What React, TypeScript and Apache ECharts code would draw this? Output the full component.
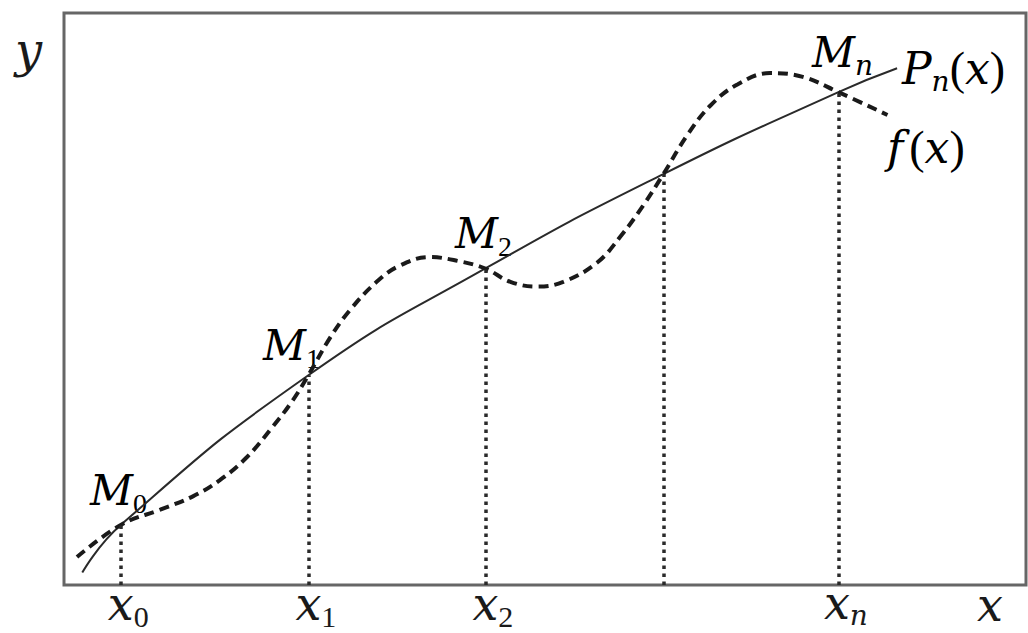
import React, { useEffect, useRef } from "react";
import * as echarts from "echarts";

// interpolation nodes x_i and their values
const nodeX = [5.9, 25.4, 43.8, 62.3, 80.5];
const nodeY = [6.3, 22.0, 33.2, 43.1, 51.7];
const tickMain = ["x", "x", "x", "", "x"];
const tickSub = ["0", "1", "2", "", "n"];
const pointMain = ["M", "M", "M", "", "M"];
const pointSub = ["0", "1", "2", "", "n"];

// polynomial P_n(x) curve: ends + nodes
const pStartX = 1.9, pStartY = 1.3;
const pEndX = 86.6, pEndY = 54.2;

// function f(x) (dashed)
const fX = [1.35, 5.9, 10.0, 13.4, 16.2, 19.0, 21.7, 23.8, 25.4, 27.7, 29.7, 32.5, 34.9, 38.0, 40.9, 43.8, 46.4, 49.2, 51.9, 55.4, 57.8, 60.2, 62.3, 64.8, 67.2, 70.0, 73.4, 76.8, 80.5, 85.6];
const fY = [2.94, 6.3, 7.9, 9.3, 11.0, 13.4, 16.6, 19.4, 22.0, 26.0, 28.8, 31.8, 33.5, 34.4, 34.0, 33.2, 31.8, 31.3, 31.8, 33.8, 36.5, 39.8, 43.1, 47.2, 50.3, 52.5, 53.7, 53.3, 51.7, 49.3];

const IT = "DejaVu Serif"; // has a real italic face
const UP = "Liberation Serif"; // upright digits and brackets
const INK = "#1a1a1a";

// label placement (pixels, top-left of text block)
const pointLabelPos: (number[] | null)[] = [[90, 463], [263, 318], [455, 206], null, [812, 25]];

const subTok = (s: string) => (/\d/.test(s) ? `{d|${s}}` : `{e|${s}}`);

export default function App() {
  const ref = useRef<HTMLDivElement>(null);
  useEffect(() => {
    if (!ref.current) return;
    const chart = echarts.init(ref.current, null, { renderer: "svg" });

    const pData: number[][] = [[pStartX, pStartY]];
    nodeX.forEach((x, i) => pData.push([x, nodeY[i]]));
    pData.push([pEndX, pEndY]);
    const fData = fX.map((x, i) => [x, fY[i]]);

    const richM = {
      m: { fontSize: 42, fontStyle: "italic", fontFamily: IT, color: INK },
      d: { fontSize: 28, fontFamily: UP, color: INK, padding: [26, 0, 0, 0] },
      e: { fontSize: 28, fontStyle: "italic", fontFamily: IT, color: INK, padding: [26, 0, 0, 0] },
    };
    const richP = {
      m: { fontSize: 44, fontStyle: "italic", fontFamily: IT, color: INK },
      r: { fontSize: 46, fontFamily: UP, color: INK },
      e: { fontSize: 28, fontStyle: "italic", fontFamily: IT, color: INK, padding: [26, 0, 0, 0] },
    };
    const richF = {
      m: { fontSize: 44, fontStyle: "italic", fontFamily: IT, color: INK },
      r: { fontSize: 46, fontFamily: UP, color: INK },
      q: { fontSize: 46, fontFamily: UP, color: INK, padding: [0, 0, 0, 6] },
    };

    const graphics: any[] = [];
    pointMain.forEach((m, i) => {
      const pos = pointLabelPos[i];
      if (!m || !pos) return;
      graphics.push({
        type: "text",
        x: pos[0],
        y: pos[1],
        style: { text: `{m|${m}}${subTok(pointSub[i])}`, rich: richM, align: "left", verticalAlign: "top" },
      });
    });
    graphics.push({
      type: "text", x: 902, y: 41,
      style: { text: "{m|P}{e|n}{r|(}{m|x}{r|)}", rich: richP, align: "left", verticalAlign: "top" },
    });
    graphics.push({
      type: "text", x: 887, y: 124,
      style: { text: "{m|f}{q|(}{m|x}{r|)}", rich: richF, align: "left", verticalAlign: "top" },
    });
    graphics.push({
      type: "text", x: 15, y: 26,
      style: { text: "y", fontSize: 48, fontStyle: "italic", fontFamily: IT, fill: INK, align: "left", verticalAlign: "top" },
    });
    graphics.push({
      type: "text", x: 977, y: 582,
      style: { text: "x", fontSize: 46, fontStyle: "italic", fontFamily: IT, fill: INK, align: "left", verticalAlign: "top" },
    });

    chart.setOption({
      animation: false,
      backgroundColor: "#ffffff",
      grid: {
        left: 64, top: 13, right: 2, bottom: 48,
        show: true, borderColor: "#666666", borderWidth: 3, backgroundColor: "transparent",
      },
      xAxis: {
        type: "value", min: 0, max: 100,
        splitLine: { show: false },
        axisLine: { show: false },
        axisTick: { show: false },
        axisLabel: {
          show: true,
          customValues: nodeX,
          margin: -8,
          formatter: (v: number) => {
            let idx = 0, best = Infinity;
            nodeX.forEach((x, i) => { const d = Math.abs(x - v); if (d < best) { best = d; idx = i; } });
            if (!tickMain[idx]) return "";
            return `{m|${tickMain[idx]}}${subTok(tickSub[idx])}`;
          },
          rich: {
            m: { fontSize: 46, fontStyle: "italic", fontFamily: IT, color: INK, padding: [0, 0, 0, 15] },
            d: { fontSize: 30, fontFamily: UP, color: INK, padding: [24, 0, 0, 0] },
            e: { fontSize: 28, fontStyle: "italic", fontFamily: IT, color: INK, padding: [24, 0, 0, 0] },
          },
        },
      },
      yAxis: {
        type: "value", min: 0, max: 60,
        show: false,
        splitLine: { show: false },
      },
      series: [
        {
          name: "Pn(x)",
          type: "line",
          data: pData,
          smooth: true,
          showSymbol: false,
          symbol: "none",
          lineStyle: { color: "#2a2a2a", width: 2 },
          z: 3,
          markLine: {
            silent: true,
            symbol: "none",
            label: { show: false },
            lineStyle: { color: "#2a2a2a", width: 3.5, type: [3.5, 4.5] },
            data: nodeX.map((x, i) => [{ coord: [x, 0] }, { coord: [x, nodeY[i]] }]),
          },
        },
        {
          name: "f(x)",
          type: "line",
          data: fData,
          smooth: 0.4,
          showSymbol: false,
          symbol: "none",
          lineStyle: { color: "#1a1a1a", width: 4, type: [10, 6] },
          z: 4,
        },
      ],
      graphic: graphics,
    });
    return () => chart.dispose();
  }, []);
  return <div ref={ref} style={{ position: "absolute", left: 0, top: 0, width: 1028, height: 633, background: "#fff" }} />;
}
